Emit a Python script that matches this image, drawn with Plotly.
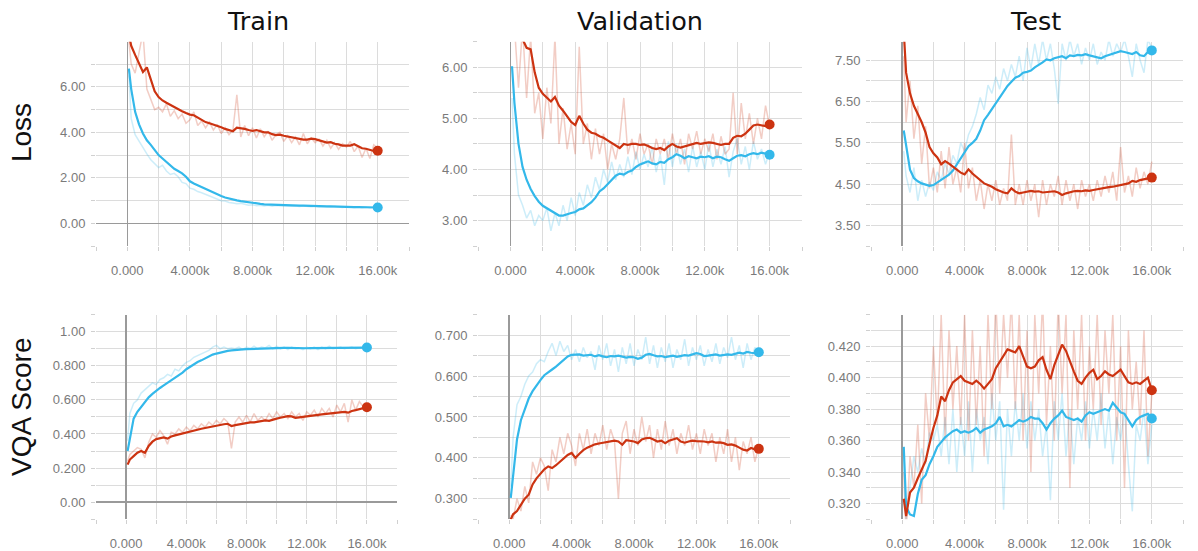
import plotly.graph_objects as go

# ---------------- data ----------------
STEPS = [100] + list(range(250, 16001, 250))

# Train / Loss
train_loss_blue_raw = [6.5, 4.6, 3.9, 3.6, 3.3, 3.05, 2.8, 2.6, 2.45, 2.55, 2.3, 2.15, 2.2, 2.05, 1.8, 1.75, 1.55, 1.5, 1.4, 1.35, 1.28, 1.2, 1.15, 1.08, 1.0, 0.98, 0.92, 0.9, 0.86, 0.88, 0.84, 0.8, 0.82, 0.78, 0.8, 0.77, 0.8, 0.76, 0.79, 0.78, 0.76,
                       0.78, 0.75, 0.77, 0.74, 0.76, 0.75, 0.73, 0.76, 0.72, 0.74, 0.73, 0.71, 0.74, 0.72, 0.70, 0.73, 0.71, 0.70, 0.72, 0.69, 0.71, 0.68, 0.70, 0.69]
train_loss_blue_smooth = [6.8, 5.9, 4.9, 4.35, 3.95, 3.65, 3.45, 3.2, 3.0, 2.85, 2.7, 2.55, 2.4, 2.3, 2.2, 2.05, 1.85, 1.75, 1.67, 1.58, 1.5, 1.42, 1.35, 1.28, 1.2, 1.14, 1.09, 1.04, 1.01, 0.98, 0.95, 0.92, 0.9, 0.88, 0.86, 0.84, 0.83, 0.82, 0.81, 0.80, 0.80,
                          0.79, 0.79, 0.78, 0.78, 0.78, 0.77, 0.77, 0.77, 0.76, 0.76, 0.75, 0.75, 0.74, 0.74, 0.73, 0.73, 0.73, 0.72, 0.72, 0.72, 0.71, 0.71, 0.70, 0.70]
train_loss_red_raw = [8.0, 7.0, 6.6, 7.4, 8.4, 5.9, 5.4, 5.0, 5.1, 4.9, 5.25, 4.7, 4.95, 4.6, 4.8, 4.4, 4.55, 4.9, 4.3, 4.5, 4.2, 4.45, 4.1, 4.35, 3.95, 4.2, 3.9, 4.1, 5.65, 3.8, 4.3, 3.85, 4.2, 3.75, 4.15, 3.8, 4.05, 3.65, 3.9, 4.0, 3.6,
                      3.85, 3.55, 3.8, 3.45, 3.95, 3.5, 3.75, 3.55, 3.7, 3.4, 3.65, 3.3, 3.55, 3.25, 3.5, 3.35, 3.6, 3.15, 3.4, 2.9, 3.3, 2.85, 3.45, 3.3]
train_loss_red_smooth = [8.3, 7.8, 7.4, 7.0, 6.65, 6.85, 6.3, 5.8, 5.55, 5.4, 5.3, 5.2, 5.1, 5.0, 4.93, 4.85, 4.78, 4.75, 4.65, 4.55, 4.45, 4.4, 4.35, 4.3, 4.22, 4.15, 4.1, 4.05, 4.2, 4.18, 4.15, 4.1, 4.06, 4.1, 4.05, 4.0, 4.0, 3.92, 3.88, 3.9, 3.85,
                         3.82, 3.78, 3.75, 3.7, 3.68, 3.68, 3.72, 3.7, 3.66, 3.6, 3.55, 3.57, 3.5, 3.47, 3.42, 3.42, 3.42, 3.48, 3.38, 3.3, 3.28, 3.22, 3.18, 3.19]

# Validation / Loss
val_loss_blue_raw = [5.4, 4.3, 3.5, 3.3, 3.05, 3.2, 2.9, 3.1, 3.0, 3.25, 2.8, 3.15, 2.9, 3.3, 3.0, 3.45, 3.1, 3.55, 3.3, 3.7, 3.45, 3.85, 3.6, 4.0, 3.75, 4.15, 3.8, 4.1, 3.85, 4.25, 3.9, 4.35, 4.0, 4.3, 4.05, 4.45, 3.95, 4.3, 3.7, 4.55, 4.05,
                     4.5, 4.1, 4.4, 3.95, 4.45, 4.05, 4.35, 4.0, 4.5, 4.05, 4.4, 4.1, 4.45, 3.85, 4.35, 4.6, 4.1, 4.45, 4.0, 4.55, 4.2, 4.4, 4.1, 4.35]
val_loss_blue_smooth = [6.02, 5.3, 4.5, 4.05, 3.8, 3.62, 3.48, 3.37, 3.29, 3.24, 3.2, 3.15, 3.1, 3.1, 3.13, 3.15, 3.17, 3.22, 3.24, 3.3, 3.36, 3.45, 3.57, 3.63, 3.72, 3.8, 3.88, 3.92, 3.9, 3.95, 3.98, 4.05, 4.1, 4.13, 4.16, 4.12, 4.1, 4.15, 4.13, 4.2, 4.24,
                        4.3, 4.27, 4.22, 4.26, 4.24, 4.22, 4.25, 4.24, 4.26, 4.22, 4.25, 4.24, 4.2, 4.17, 4.22, 4.27, 4.28, 4.26, 4.3, 4.32, 4.3, 4.33, 4.31, 4.29]
val_loss_red_raw = [8.0, 6.8, 5.6, 6.8, 5.4, 6.6, 5.1, 5.5, 4.6, 5.6, 4.9, 6.6, 4.5, 5.2, 4.4, 4.9, 4.3, 6.4, 4.5, 4.9, 4.2, 4.8, 4.3, 4.7, 4.0, 4.5, 4.2, 4.6, 5.4, 4.3, 4.6, 4.2, 4.7, 4.3, 4.5, 4.1, 4.6, 4.3, 4.6, 4.2, 4.7,
                    4.3, 4.6, 4.1, 4.7, 4.4, 4.75, 4.3, 4.6, 4.35, 4.7, 4.2, 4.65, 4.3, 4.4, 5.5, 4.3, 5.3, 4.6, 5.1, 4.5, 5.0, 4.6, 5.25, 4.85]
val_loss_red_smooth = [7.6, 7.2, 6.8, 6.55, 6.38, 6.35, 5.9, 5.6, 5.48, 5.4, 5.33, 5.42, 5.25, 5.15, 5.05, 4.93, 4.87, 5.05, 4.9, 4.78, 4.72, 4.7, 4.65, 4.62, 4.57, 4.52, 4.47, 4.42, 4.5, 4.48, 4.5, 4.5, 4.48, 4.49, 4.46, 4.42, 4.4, 4.42, 4.38, 4.45, 4.5,
                       4.45, 4.43, 4.45, 4.48, 4.5, 4.52, 4.5, 4.52, 4.53, 4.52, 4.5, 4.48, 4.5, 4.5, 4.62, 4.66, 4.65, 4.7, 4.78, 4.86, 4.88, 4.87, 4.85, 4.88]

# Test / Loss
test_loss_blue_raw = [5.3, 4.7, 4.3, 4.9, 4.1, 4.6, 4.2, 4.55, 4.35, 4.8, 4.6, 5.0, 4.75, 5.2, 5.0, 5.5, 5.3, 5.7, 5.9, 6.2, 6.6, 6.3, 6.9, 6.7, 7.1, 6.8, 7.3, 7.0, 7.4, 7.1, 7.6, 7.0, 7.8, 7.3, 7.9, 7.4, 8.0, 7.5, 7.9, 7.3, 6.45,
                      7.9, 7.5, 8.0, 7.6, 7.9, 7.4, 7.8, 7.5, 7.9, 7.4, 7.7, 7.5, 8.0, 7.6, 7.9, 7.7, 8.0, 7.6, 7.1, 7.9, 7.5, 7.2, 8.0, 7.8]
test_loss_blue_smooth = [5.8, 5.4, 4.85, 4.65, 4.57, 4.52, 4.49, 4.46, 4.48, 4.54, 4.6, 4.65, 4.73, 4.83, 4.97, 5.12, 5.27, 5.42, 5.5, 5.6, 5.8, 6.05, 6.18, 6.32, 6.48, 6.62, 6.75, 6.88, 6.98, 7.08, 7.12, 7.2, 7.22, 7.25, 7.33, 7.38, 7.45, 7.52, 7.5, 7.55, 7.58,
                         7.6, 7.55, 7.62, 7.6, 7.63, 7.62, 7.65, 7.62, 7.6, 7.57, 7.55, 7.6, 7.63, 7.65, 7.68, 7.72, 7.7, 7.68, 7.65, 7.7, 7.62, 7.6, 7.7, 7.74]
test_loss_red_raw = [7.6, 6.0, 7.0, 5.6, 6.4, 5.0, 5.9, 4.4, 4.9, 4.3, 5.3, 4.4, 5.4, 4.5, 4.9, 4.3, 5.5, 4.4, 4.9, 4.1, 4.6, 3.9, 4.5, 4.1, 4.6, 4.0, 4.4, 4.1, 5.7, 4.0, 4.5, 4.0, 4.6, 4.1, 4.5, 3.7, 4.6, 4.0, 4.5, 4.2, 4.7,
                     4.0, 4.6, 4.1, 4.5, 3.9, 4.6, 4.2, 4.5, 4.1, 4.6, 4.2, 4.7, 4.3, 4.8, 4.1, 5.4, 4.3, 4.7, 4.2, 4.9, 4.4, 4.8, 4.5, 5.05]
test_loss_red_smooth = [8.2, 7.2, 6.7, 6.4, 6.2, 6.0, 5.75, 5.4, 5.25, 5.15, 4.98, 5.06, 5.0, 4.92, 4.84, 4.78, 4.74, 4.86, 4.76, 4.68, 4.58, 4.52, 4.48, 4.44, 4.38, 4.34, 4.3, 4.28, 4.4, 4.32, 4.28, 4.3, 4.32, 4.34, 4.32, 4.33, 4.3, 4.31, 4.32, 4.33, 4.3,
                        4.24, 4.28, 4.31, 4.33, 4.34, 4.33, 4.35, 4.34, 4.36, 4.38, 4.4, 4.42, 4.43, 4.44, 4.46, 4.48, 4.5, 4.52, 4.58, 4.56, 4.6, 4.62, 4.63, 4.66]

# Train / VQA Score
train_vqa_blue_raw = [0.36, 0.52, 0.58, 0.6, 0.64, 0.66, 0.68, 0.70, 0.69, 0.72, 0.73, 0.75, 0.74, 0.78, 0.77, 0.80, 0.82, 0.83, 0.85, 0.86, 0.87, 0.88, 0.89, 0.91, 0.92, 0.9, 0.91, 0.9, 0.905, 0.9, 0.91, 0.895, 0.91, 0.9, 0.915, 0.9, 0.91, 0.905, 0.92, 0.9, 0.915,
                      0.9, 0.91, 0.895, 0.91, 0.9, 0.905, 0.895, 0.91, 0.9, 0.91, 0.895, 0.91, 0.9, 0.915, 0.9, 0.905, 0.91, 0.9, 0.905, 0.91, 0.9, 0.905, 0.91, 0.905]
train_vqa_blue_smooth = [0.30, 0.38, 0.49, 0.53, 0.56, 0.59, 0.615, 0.635, 0.655, 0.67, 0.685, 0.70, 0.715, 0.73, 0.745, 0.76, 0.78, 0.795, 0.81, 0.822, 0.832, 0.845, 0.857, 0.866, 0.872, 0.878, 0.884, 0.888, 0.891, 0.894, 0.896, 0.897, 0.898, 0.899, 0.9, 0.902, 0.903, 0.904, 0.905, 0.906, 0.907,
                         0.906, 0.905, 0.905, 0.904, 0.904, 0.903, 0.903, 0.903, 0.904, 0.904, 0.905, 0.905, 0.906, 0.906, 0.907, 0.907, 0.907, 0.906, 0.907, 0.906, 0.907, 0.907, 0.906, 0.907]
train_vqa_red_raw = [0.24, 0.28, 0.30, 0.32, 0.31, 0.26, 0.35, 0.40, 0.38, 0.42, 0.39, 0.34, 0.41, 0.40, 0.43, 0.41, 0.44, 0.42, 0.45, 0.43, 0.46, 0.44, 0.47, 0.45, 0.48, 0.46, 0.49, 0.47, 0.315, 0.47, 0.5, 0.47, 0.51, 0.47, 0.52, 0.48, 0.5, 0.48, 0.52, 0.49, 0.53,
                     0.5, 0.52, 0.49, 0.53, 0.5, 0.52, 0.48, 0.53, 0.51, 0.54, 0.5, 0.55, 0.52, 0.55, 0.5, 0.57, 0.53, 0.58, 0.47, 0.6, 0.54, 0.59, 0.56, 0.58]
train_vqa_red_smooth = [0.22, 0.25, 0.27, 0.29, 0.30, 0.29, 0.33, 0.355, 0.37, 0.377, 0.38, 0.373, 0.385, 0.392, 0.398, 0.403, 0.41, 0.414, 0.42, 0.425, 0.431, 0.435, 0.44, 0.445, 0.45, 0.455, 0.457, 0.46, 0.447, 0.452, 0.457, 0.462, 0.466, 0.468, 0.468, 0.472, 0.476, 0.48, 0.477, 0.485, 0.49,
                        0.495, 0.499, 0.505, 0.503, 0.495, 0.498, 0.5, 0.503, 0.507, 0.509, 0.512, 0.515, 0.518, 0.52, 0.522, 0.524, 0.528, 0.53, 0.525, 0.535, 0.54, 0.545, 0.55, 0.557]

# Validation / VQA Score
val_vqa_blue_raw = [0.33, 0.45, 0.53, 0.55, 0.58, 0.60, 0.61, 0.63, 0.64, 0.635, 0.66, 0.68, 0.65, 0.685, 0.66, 0.675, 0.64, 0.665, 0.635, 0.67, 0.645, 0.66, 0.615, 0.675, 0.64, 0.68, 0.625, 0.665, 0.61, 0.67, 0.63, 0.68, 0.625, 0.665, 0.64, 0.695, 0.63, 0.675, 0.62, 0.67, 0.635,
                    0.68, 0.62, 0.665, 0.64, 0.69, 0.625, 0.67, 0.64, 0.675, 0.625, 0.665, 0.635, 0.68, 0.63, 0.67, 0.645, 0.695, 0.64, 0.675, 0.62, 0.68, 0.64, 0.67, 0.655]
val_vqa_blue_smooth = [0.302, 0.36, 0.445, 0.492, 0.52, 0.545, 0.563, 0.578, 0.59, 0.602, 0.61, 0.616, 0.623, 0.632, 0.641, 0.648, 0.652, 0.652, 0.653, 0.65, 0.651, 0.652, 0.648, 0.651, 0.648, 0.646, 0.649, 0.648, 0.65, 0.648, 0.645, 0.647, 0.646, 0.642, 0.645, 0.652, 0.654, 0.651, 0.648, 0.649, 0.646,
                       0.648, 0.65, 0.647, 0.649, 0.651, 0.65, 0.653, 0.656, 0.654, 0.649, 0.65, 0.651, 0.653, 0.65, 0.652, 0.653, 0.652, 0.654, 0.657, 0.655, 0.659, 0.657, 0.656, 0.658]
val_vqa_red_raw = [0.26, 0.25, 0.3, 0.27, 0.33, 0.29, 0.39, 0.36, 0.4, 0.38, 0.32, 0.42, 0.39, 0.45, 0.41, 0.46, 0.43, 0.38, 0.46, 0.42, 0.47, 0.41, 0.46, 0.43, 0.48, 0.42, 0.47, 0.44, 0.3, 0.46, 0.49, 0.41, 0.47, 0.43, 0.5, 0.44, 0.48, 0.4, 0.47, 0.42, 0.49,
                   0.43, 0.47, 0.41, 0.46, 0.43, 0.48, 0.42, 0.46, 0.41, 0.47, 0.43, 0.46, 0.39, 0.45, 0.41, 0.47, 0.39, 0.45, 0.37, 0.44, 0.41, 0.45, 0.39, 0.43]
val_vqa_red_smooth = [0.25, 0.262, 0.27, 0.286, 0.3, 0.31, 0.335, 0.35, 0.362, 0.372, 0.379, 0.375, 0.382, 0.39, 0.4, 0.407, 0.412, 0.4, 0.41, 0.419, 0.425, 0.43, 0.433, 0.435, 0.437, 0.438, 0.44, 0.442, 0.44, 0.432, 0.443, 0.442, 0.44, 0.436, 0.445, 0.448, 0.449, 0.445, 0.44, 0.442, 0.436,
                      0.442, 0.446, 0.448, 0.44, 0.437, 0.44, 0.442, 0.441, 0.441, 0.44, 0.438, 0.44, 0.437, 0.438, 0.436, 0.432, 0.433, 0.43, 0.425, 0.42, 0.418, 0.424, 0.421, 0.422]

# Test / VQA Score
test_vqa_blue_raw = [0.356, 0.31, 0.33, 0.35, 0.34, 0.355, 0.345, 0.365, 0.36, 0.37, 0.35, 0.375, 0.345, 0.38, 0.34, 0.375, 0.35, 0.385, 0.34, 0.38, 0.36, 0.375, 0.345, 0.39, 0.36, 0.385, 0.316, 0.38, 0.35, 0.385, 0.36, 0.39, 0.355, 0.385, 0.36, 0.38, 0.35, 0.37, 0.322, 0.385, 0.36,
                     0.39, 0.35, 0.38, 0.345, 0.375, 0.36, 0.385, 0.355, 0.38, 0.36, 0.39, 0.355, 0.38, 0.345, 0.375, 0.36, 0.38, 0.345, 0.315, 0.37, 0.36, 0.38, 0.345, 0.37]
test_vqa_blue_smooth = [0.356, 0.318, 0.313, 0.312, 0.326, 0.335, 0.338, 0.345, 0.35, 0.356, 0.359, 0.362, 0.364, 0.366, 0.367, 0.365, 0.366, 0.365, 0.366, 0.368, 0.365, 0.367, 0.368, 0.369, 0.371, 0.375, 0.369, 0.37, 0.369, 0.371, 0.373, 0.372, 0.373, 0.375, 0.374, 0.374, 0.371, 0.367, 0.371, 0.374, 0.376,
                        0.379, 0.375, 0.374, 0.373, 0.374, 0.372, 0.376, 0.378, 0.377, 0.378, 0.379, 0.38, 0.379, 0.384, 0.381, 0.378, 0.377, 0.373, 0.369, 0.373, 0.375, 0.376, 0.377, 0.374]
test_vqa_red_raw = [0.34, 0.3, 0.35, 0.33, 0.37, 0.32, 0.39, 0.36, 0.42, 0.37, 0.44, 0.36, 0.43, 0.38, 0.42, 0.37, 0.44, 0.36, 0.43, 0.37, 0.42, 0.35, 0.44, 0.38, 0.45, 0.39, 0.44, 0.4, 0.45, 0.38, 0.44, 0.36, 0.43, 0.34, 0.44, 0.39, 0.45, 0.37, 0.42, 0.36, 0.45,
                    0.39, 0.44, 0.33, 0.43, 0.38, 0.44, 0.36, 0.42, 0.38, 0.44, 0.37, 0.43, 0.39, 0.44, 0.36, 0.42, 0.33, 0.43, 0.38, 0.41, 0.37, 0.43, 0.35, 0.39]
test_vqa_red_smooth = [0.323, 0.312, 0.327, 0.33, 0.336, 0.341, 0.347, 0.358, 0.368, 0.376, 0.388, 0.385, 0.392, 0.397, 0.399, 0.401, 0.398, 0.397, 0.396, 0.398, 0.396, 0.393, 0.396, 0.399, 0.406, 0.41, 0.414, 0.418, 0.417, 0.416, 0.42, 0.413, 0.407, 0.406, 0.407, 0.411, 0.413, 0.405, 0.399, 0.408, 0.415,
                       0.421, 0.417, 0.41, 0.404, 0.398, 0.396, 0.4, 0.403, 0.405, 0.399, 0.401, 0.404, 0.402, 0.401, 0.403, 0.405, 0.401, 0.397, 0.396, 0.397, 0.396, 0.398, 0.4, 0.392]

# axis ticks (grid positions and their labels)
X_TICKS = [-2000, 0, 2000, 4000, 6000, 8000, 10000, 12000, 14000, 16000, 18000]
X_LABELS = ["", "0.000", "", "4.000k", "", "8.000k", "", "12.00k", "", "16.00k", ""]

train_loss_yticks = [-1, 0, 1, 2, 3, 4, 5, 6, 7, 8]
train_loss_ylabels = ["", "0.00", "", "2.00", "", "4.00", "", "6.00", "", ""]
val_loss_yticks = [2.5, 3.0, 3.5, 4.0, 4.5, 5.0, 5.5, 6.0, 6.5]
val_loss_ylabels = ["", "3.00", "", "4.00", "", "5.00", "", "6.00", ""]
test_loss_yticks = [3.0, 3.5, 4.0, 4.5, 5.0, 5.5, 6.0, 6.5, 7.0, 7.5]
test_loss_ylabels = ["", "3.50", "", "4.50", "", "5.50", "", "6.50", "", "7.50"]
train_vqa_yticks = [-0.1, 0.0, 0.1, 0.2, 0.3, 0.4, 0.5, 0.6, 0.7, 0.8, 0.9, 1.0, 1.1]
train_vqa_ylabels = ["", "0.00", "", "0.200", "", "0.400", "", "0.600", "", "0.800", "", "1.00", ""]
val_vqa_yticks = [0.25, 0.30, 0.35, 0.40, 0.45, 0.50, 0.55, 0.60, 0.65, 0.70, 0.75]
val_vqa_ylabels = ["", "0.300", "", "0.400", "", "0.500", "", "0.600", "", "0.700", ""]
test_vqa_yticks = [0.31, 0.32, 0.33, 0.34, 0.35, 0.36, 0.37, 0.38, 0.39, 0.40, 0.41, 0.42, 0.43, 0.44]
test_vqa_ylabels = ["", "0.320", "", "0.340", "", "0.360", "", "0.380", "", "0.400", "", "0.420", "", ""]

COL_TITLES = ["Train", "Validation", "Test"]
ROW_TITLES = ["Loss", "VQA Score"]

# ---------------- styling / layout ----------------
BLUE = "#33b8ea"
RED = "#cc3311"
W, H = 1198, 551

panels = [
    # (blue_raw, blue_smooth, red_raw, red_smooth, yrange, yticks, ylabels, x_px, y_px)
    (train_loss_blue_raw, train_loss_blue_smooth, train_loss_red_raw, train_loss_red_smooth,
     [-1.0, 7.98], train_loss_yticks, train_loss_ylabels, (96, 409), (42, 248)),
    (val_loss_blue_raw, val_loss_blue_smooth, val_loss_red_raw, val_loss_red_smooth,
     [2.5, 6.5], val_loss_yticks, val_loss_ylabels, (478, 802), (42, 248)),
    (test_loss_blue_raw, test_loss_blue_smooth, test_loss_red_raw, test_loss_red_smooth,
     [3.0, 7.95], test_loss_yticks, test_loss_ylabels, (871, 1183), (42, 248)),
    (train_vqa_blue_raw, train_vqa_blue_smooth, train_vqa_red_raw, train_vqa_red_smooth,
     [-0.1, 1.1], train_vqa_yticks, train_vqa_ylabels, (96, 397), (317, 523)),
    (val_vqa_blue_raw, val_vqa_blue_smooth, val_vqa_red_raw, val_vqa_red_smooth,
     [0.25, 0.75], val_vqa_yticks, val_vqa_ylabels, (478, 790), (317, 523)),
    (test_vqa_blue_raw, test_vqa_blue_smooth, test_vqa_red_raw, test_vqa_red_smooth,
     [0.31, 0.44], test_vqa_yticks, test_vqa_ylabels, (871, 1183), (317, 523)),
]

fig = go.Figure()
layout = dict(
    width=W, height=H,
    margin=dict(l=0, r=0, t=0, b=0),
    paper_bgcolor="white", plot_bgcolor="white",
    showlegend=False,
    hovermode=False,
    font=dict(family="Liberation Sans, Arial, sans-serif", color="#777777", size=13),
)

TICKFONT = dict(family="Liberation Sans, Arial, sans-serif", color="#7a7a7a", size=13)

for i, (br, bs, rr, rs, yr, yt, yl, xpx, ypx) in enumerate(panels):
    n = i + 1
    xa = "x" if n == 1 else f"x{n}"
    ya = "y" if n == 1 else f"y{n}"
    xkey = "xaxis" if n == 1 else f"xaxis{n}"
    ykey = "yaxis" if n == 1 else f"yaxis{n}"
    xdom = [xpx[0] / W, xpx[1] / W]
    ydom = [1 - ypx[1] / H, 1 - ypx[0] / H]
    layout[xkey] = dict(
        domain=xdom, anchor=ya, range=[-2000, 18000],
        tickmode="array", tickvals=X_TICKS, ticktext=X_LABELS,
        showgrid=True, gridcolor="#dcdcdc", gridwidth=1,
        zeroline=True, zerolinecolor="#9a9a9a", zerolinewidth=1.5,
        showline=False, ticks="outside", ticklen=4, tickcolor="#d0d0d0",
        ticklabelstandoff=8,
        tickfont=TICKFONT, fixedrange=True,
    )
    layout[ykey] = dict(
        domain=ydom, anchor=xa, range=yr,
        tickmode="array", tickvals=yt, ticktext=yl,
        showgrid=True, gridcolor="#dcdcdc", gridwidth=1,
        zeroline=True, zerolinecolor="#9a9a9a", zerolinewidth=1.5,
        showline=False, ticks="outside", ticklen=4, tickcolor="#d0d0d0",
        ticklabelstandoff=3,
        tickfont=TICKFONT, fixedrange=True,
    )
    # raw (faint) lines
    fig.add_trace(go.Scatter(x=STEPS, y=br, xaxis=xa, yaxis=ya, mode="lines",
                             line=dict(color=BLUE, width=1.5), opacity=0.24, hoverinfo="skip"))
    fig.add_trace(go.Scatter(x=STEPS, y=rr, xaxis=xa, yaxis=ya, mode="lines",
                             line=dict(color=RED, width=1.5), opacity=0.24, hoverinfo="skip"))
    # smoothed lines
    fig.add_trace(go.Scatter(x=STEPS, y=bs, xaxis=xa, yaxis=ya, mode="lines",
                             line=dict(color=BLUE, width=2.2)))
    fig.add_trace(go.Scatter(x=STEPS, y=rs, xaxis=xa, yaxis=ya, mode="lines",
                             line=dict(color=RED, width=2.2)))
    # end-point dots
    fig.add_trace(go.Scatter(x=[STEPS[-1]], y=[bs[-1]], xaxis=xa, yaxis=ya, mode="markers",
                             marker=dict(color=BLUE, size=10), cliponaxis=False))
    fig.add_trace(go.Scatter(x=[STEPS[-1]], y=[rs[-1]], xaxis=xa, yaxis=ya, mode="markers",
                             marker=dict(color=RED, size=10), cliponaxis=False))

annotations = []
title_x = [258, 640, 1035]
for t, xp in zip(COL_TITLES, title_x):
    annotations.append(dict(text=t, x=xp / W, y=1 - 21 / H, xref="paper", yref="paper",
                            xanchor="center", yanchor="middle", showarrow=False,
                            font=dict(family="DejaVu Sans, sans-serif", size=25.5, color="#111111")))
row_y = [134, 410]
for t, yp in zip(ROW_TITLES, row_y):
    annotations.append(dict(text=t, x=21 / W, y=1 - yp / H, xref="paper", yref="paper",
                            xanchor="center", yanchor="middle", showarrow=False, textangle=-90,
                            font=dict(family="Liberation Sans, Arial, sans-serif", size=28, color="#111111")))
layout["annotations"] = annotations

fig.update_layout(**layout)
fig.write_html("out.html", config={"displayModeBar": False, "staticPlot": True},
               post_script="document.body.style.margin='0';document.body.style.padding='0';")
